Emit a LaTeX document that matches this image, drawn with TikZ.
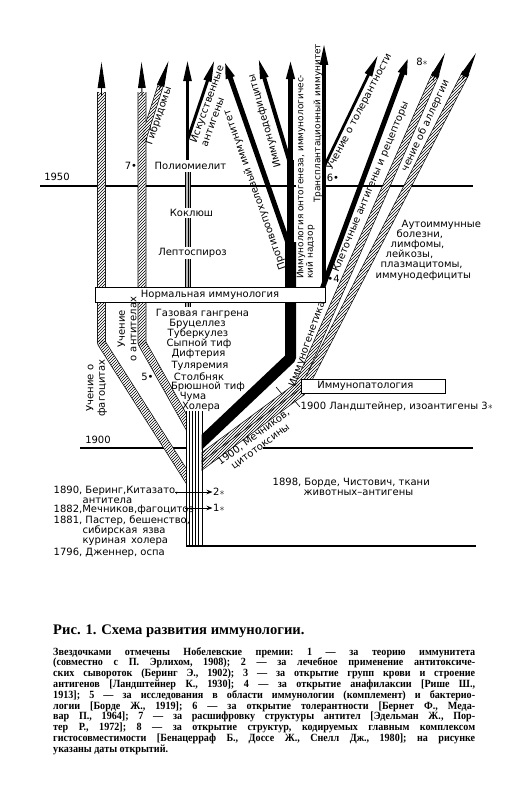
\documentclass[tikz,border=0pt]{standalone}
\usepackage{fontspec}
\setmainfont{DejaVu Sans}
\newfontfamily\capfont[FakeStretch=0.92]{Liberation Serif}
\newfontfamily\titlefont{Liberation Serif}
\usetikzlibrary{arrows.meta,calc,patterns}

% hatched piece of a band between two points
\newcommand{\hseg}[3]{%
  \fill[hatch] ($(#1)!#3!90:(#2)$) -- ($(#2)!#3!-90:(#1)$)
    -- ($(#2)!#3!90:(#1)$) -- ($(#1)!#3!-90:(#2)$) -- cycle;}
\newcommand{\capline}[1]{\makebox[422pt][s]{#1}}

\tikzset{
  lbl/.style={font=\fontsize{10}{11.5}\selectfont, inner sep=0.5pt},
  slbl/.style={font=\fontsize{9}{8.6}\selectfont, inner sep=0pt},
  wlbl/.style={lbl, fill=white, inner sep=1pt},
  dlbl/.style={lbl, inner sep=0pt},
  yearline/.style={line width=1.2pt},
  bandout/.style={line width=#1, line join=round},
  bandin/.style={draw=white, line width=#1, line join=round},
  hatch/.style={pattern=north east lines},
  arr/.style={-{Triangle[length=22pt,width=7.5pt]}},
  thinarr/.style={line width=.9pt, -{Triangle[length=26pt,width=7.5pt]}},
  namebox/.style={draw, line width=.8pt, fill=white, inner sep=0pt, font=\fontsize{10}{11}\selectfont},
  ptr/.style={line width=.8pt, -{Stealth[length=6pt,width=4.5pt]}},
}

\begin{document}
\begin{tikzpicture}[x=1pt, y=-1pt]
\useasboundingbox[fill=white] (0,0) rectangle (527,800);

% year lines
\draw[yearline] (40,186) -- (296,186);
\draw[yearline] (324,186) -- (473,186);
\draw[yearline] (80,448) -- (186,448);
\draw[yearline] (263,448) -- (473,448);
\draw[yearline] (186,546) -- (476,546);
\node[lbl] (y1950) at (57,177) {1950};
\node[lbl] (y1900) at (98,440) {1900};

% left bands: phagocytes, antibodies, hybridomas
\begin{scope}
  \clip (0,0) rectangle (186.5,800);
  \coordinate (pa) at (101.5,92);
  \coordinate (pb) at (101.5,343);
  \coordinate (pc) at (192,485);
  \coordinate (aa) at (142,92);
  \coordinate (ab) at (142,343);
  \coordinate (ac) at (192,432);
  \coordinate (gt) at (168.5,61);
  \coordinate (ga) at (142.5,142);
  \coordinate (gb) at ($(gt)!22pt!(ga)$);
  \draw[bandout=8.6pt] (pa) -- (pb) -- (pc);
  \draw[bandout=8.6pt] (aa) -- (ab) -- (ac);
  \draw[bandout=6pt] (ga) -- (gb);
  \draw[bandin=7.2pt] (pa) -- (pb) -- (pc);
  \draw[bandin=7.2pt] (aa) -- (ab) -- (ac);
  \draw[bandin=4.6pt] (ga) -- (gb);
  \hseg{pa}{pb}{3.6pt} \hseg{pb}{pc}{3.6pt} \fill[hatch] (pb) circle[radius=3.6pt];
  \hseg{aa}{ab}{3.6pt} \hseg{ab}{ac}{3.6pt} \fill[hatch] (ab) circle[radius=3.6pt];
  \hseg{ga}{gb}{2.3pt}
\end{scope}
\draw[thinarr] (101.5,96) -- (101.5,62);
\draw[thinarr] (142,96) -- (141.5,62);
\draw[thinarr] ($(gt)!30pt!(ga)$) -- (gt);

% middle column
\fill[gray!55] (185.5,172) rectangle (190.5,307);
\draw[line width=.6pt] (185.5,172) -- (185.5,307) (188,172) -- (188,307) (190.5,172) -- (190.5,307);
\draw[line width=3.6pt, arr] (187.5,160) -- (187.5,59);
\draw[line width=3pt, arr] (187.5,140) -- (214.5,60);

% right bands: immunogenetics / immunopathology
\begin{scope}
  \clip (201.5,0) rectangle (527,800);
  \coordinate (ua) at (192.6,463.7);
  \coordinate (ub) at (298,386);
  \coordinate (ut) at (445,53);
  \coordinate (ue) at ($(ut)!22pt!(ub)$);
  \coordinate (la) at (195,470.9);
  \coordinate (lb) at (302,392);
  \coordinate (lt) at (476,53);
  \coordinate (le) at ($(lt)!22pt!(lb)$);
  \draw[bandout=7.6pt] (ua) -- (ub) -- (ue);
  \draw[bandout=7.6pt] (la) -- (lb) -- (le);
  \draw[bandin=6.2pt] (ua) -- (ub) -- (ue);
  \draw[bandin=6.2pt] (la) -- (lb) -- (le);
  \hseg{ua}{ub}{3.1pt} \hseg{ub}{ue}{3.1pt} \fill[hatch] (ub) circle[radius=3.1pt];
  \hseg{la}{lb}{3.1pt} \hseg{lb}{le}{3.1pt} \fill[hatch] (lb) circle[radius=3.1pt];
  % black band
  \coordinate (bt) at (195,448.5);
  \coordinate (bc) at (290.5,358);
  \draw[line width=11pt, line join=round] (bt) -- (bc) -- (290.5,242);
\end{scope}
\draw[thinarr] ($(ut)!30pt!(ub)$) -- (ut);
\draw[thinarr] ($(lt)!30pt!(lb)$) -- (lt);
\draw[line width=7.5pt] (290.5,247) -- (290.5,160);
\draw[line width=4.5pt, arr] (290.5,165) -- (290.5,57);
\draw[line width=5pt, arr] (290.5,250) -- (223,57);
\draw[line width=4pt, arr] (290.5,165) -- (258,57);
\draw[line width=5pt, arr] (321,292) -- (410,53);
\draw[line width=3.4pt, arr] (324,283) -- (324,43);
\draw[line width=2.8pt, arr] (324,167) -- (378,55);
\draw[line width=.6pt] (276,387) -- (282,394);

% trunk
\foreach \tx in {186,189.2,...,202}
  \draw[line width=.7pt] (\tx,411) -- (\tx,546);
\draw[line width=1pt] (186,411) -- (186,546) (202,411) -- (202,546);

% boxes
\node[namebox, minimum width=230pt, minimum height=15pt] (normimm) at (210,294.5) {Нормальная иммунология};
\node[namebox, anchor=west, text width=112pt, inner xsep=16pt, minimum height=14pt, align=left] (pathimm) at (301,386) {Иммунопатология};

% diseases on the middle line
\node[wlbl] (polio) at (190.5,166) {Полиомиелит};
\node[wlbl] (pertus) at (191.5,213) {Коклюш};
\node[wlbl] (lepto) at (192.5,253) {Лептоспироз};
\node[dlbl] (gangr) at (202.5,314) {Газовая гангрена};
\node[dlbl] (brucel) at (197.5,324) {Бруцеллез};
\node[dlbl] (tuberc) at (198,334) {Туберкулез};
\node[dlbl] (typhus) at (199,344) {Сыпной тиф};
\node[dlbl] (diphth) at (198.5,354) {Дифтерия};
\node[dlbl] (tular) at (200,366) {Туляремия};
\node[dlbl] (tetan) at (199,377) {Столбняк};
\node[dlbl] (typhoid) at (208,387) {Брюшной тиф};
\node[dlbl] (plague) at (193,397) {Чума};
\node[dlbl] (cholera) at (201,406.5) {Холера};

% branch labels
\node[lbl, rotate=90, align=center] (phag) at (96.5,388) {Учение о\\фагоцитах};
\node[lbl, rotate=90, align=center] (antib) at (127,329) {Учение\\о антителах};
\node[lbl, rotate=71] (hybr) at (159,116) {Гибридомы};
\node[lbl, rotate=70, anchor=north west, align=left] (artag) at (188.5,141) {Искусственные\\антигены};
\node[lbl, rotate=109.5] (antitum) at (255,190) {Противоопухолевый иммунитет};
\node[lbl, rotate=106] (immdef) at (265,121) {Иммунодефициты};
\node[slbl, rotate=90, anchor=north west, align=left] (onto) at (296.5,279) {Иммунология онтогенеза, иммунологичес-\\кий надзор};
\node[slbl, rotate=90, anchor=south west] (transpl) at (322.5,203) {Трансплантационный иммунитет};
\node[lbl, rotate=62.5] (toler) at (359.5,112) {Учение о толерантности};
\node[lbl, rotate=67.5] (cellag) at (371,187) {Клеточные антигены и рецепторы};
\node[lbl, rotate=65] (allerg) at (425.5,126) {чение об аллергии};
\node[lbl, rotate=70.5] (immgen) at (307.5,344) {Иммуногенетика};
\node[lbl, rotate=36.4, align=center] (mechn) at (257,442) {1900, Мечников,\\цитотоксины};

% autoimmune block
\node[lbl, anchor=west] (auto1) at (401,225) {Аутоиммунные};
\node[lbl, anchor=west] (auto2) at (396,234.5) {болезни,};
\node[lbl, anchor=west] (auto3) at (390,244.5) {лимфомы,};
\node[lbl, anchor=west] (auto4) at (385,254.5) {лейкозы,};
\node[lbl, anchor=west] (auto5) at (380,265) {плазмацитомы,};
\node[lbl, anchor=west] (auto6) at (375,276) {иммунодефициты};

% nobel marks
\node[lbl] (nob7) at (131,166) {7\textbullet};
\node[lbl] (nob5) at (147.5,377) {5\textbullet};
\node[lbl] (nob6) at (333,178) {6\textbullet};
\node[lbl] (nob4) at (333.5,279) {\textbullet 4};
\node[lbl] (nob8) at (422,62) {8$\ast$};

% landsteiner
\node[lbl, anchor=west] (land) at (300,407) {1900 Ландштейнер, изоантигены 3$\ast$};
\coordinate (lt0) at (294,400);
\draw[line width=.6pt] (lt0) -- (land.west);

% dates at the root
\node[lbl, anchor=west] (d1890) at (53,491) {1890, Беринг,Китазато,};
\node[lbl, anchor=west] (d1890b) at (82,501) {антитела};
\node[lbl, anchor=west] (d1882) at (53,510) {1882,Мечников,фагоцитоз};
\node[lbl, anchor=west] (d1881) at (53,520.5) {1881, Пастер, бешенство,};
\node[lbl, anchor=west] (d1881b) at (82,531) {сибирская\, язва};
\node[lbl, anchor=west] (d1881c) at (82,542) {куриная\, холера};
\node[lbl, anchor=west] (d1796) at (53,553) {1796, Дженнер, оспа};
\node[lbl, anchor=west] (nob2) at (212.5,492) {2$\ast$};
\node[lbl, anchor=west] (nob1) at (212.5,508) {1$\ast$};
\coordinate (s2) at (175,492);
\coordinate (s1) at (185,508);
\draw[ptr] (s2) -- (nob2.west);
\draw[ptr] (s1) -- (nob1.west);

\node[lbl, anchor=west] (bord1) at (272,483) {1898, Борде, Чистович, ткани};
\node[lbl, anchor=west] (bord2) at (303,493) {животных–антигены};

% caption
\node[anchor=west, inner sep=0pt, font=\titlefont\bfseries\fontsize{14.6}{15}\selectfont] (title) at (53,631) {Рис. 1. Схема развития иммунологии.};
\node[anchor=north west, inner sep=0pt, align=left, font=\capfont\bfseries\fontsize{11}{10.8}\selectfont\frenchspacing] (legend) at (53,647) {%
\capline{Звездочками отмечены Нобелевские премии: 1 — за теорию иммунитета}\\
\capline{(совместно с П. Эрлихом, 1908); 2 — за лечебное применение антитоксиче-}\\
\capline{ских сывороток (Беринг Э., 1902); 3 — за открытие групп крови и строение}\\
\capline{антигенов [Ландштейнер К., 1930]; 4 — за открытие анафилаксии [Рише Ш.,}\\
\capline{1913]; 5 — за исследования в области иммунологии (комплемент) и бактерио-}\\
\capline{логии [Борде Ж., 1919]; 6 — за открытие толерантности [Бернет Ф., Меда-}\\
\capline{вар П., 1964]; 7 — за расшифровку структуры антител [Эдельман Ж., Пор-}\\
\capline{тер Р., 1972]; 8 — за открытие структур, кодируемых главным комплексом}\\
\capline{гистосовместимости [Бенацерраф Б., Доссе Ж., Снелл Дж., 1980]; на рисунке}\\
указаны даты открытий.};
\end{tikzpicture}
\end{document}
